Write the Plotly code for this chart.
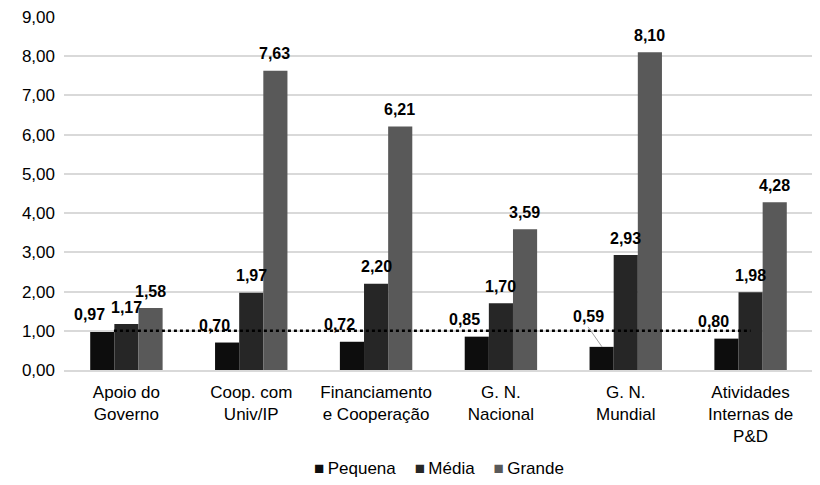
import plotly.graph_objects as go

categories = ["Apoio do<br>Governo", "Coop. com<br>Univ/IP", "Financiamento<br>e Cooperação",
              "G. N.<br>Nacional", "G. N.<br>Mundial", "Atividades<br>Internas de<br>P&D"]
pequena = [0.97, 0.70, 0.72, 0.85, 0.59, 0.80]
media = [1.17, 1.97, 2.20, 1.70, 2.93, 1.98]
grande = [1.58, 7.63, 6.21, 3.59, 8.10, 4.28]
reference_level = 1.0
tick_values = [0, 1, 2, 3, 4, 5, 6, 7, 8, 9]

series = [("Pequena", pequena, "#0d0d0d"), ("Média", media, "#262626"), ("Grande", grande, "#595959")]
FONT = "Liberation Sans, Arial"

def fmt(v):
    return f"{v:.2f}".replace(".", ",")

fig = go.Figure()
for name, vals, col in series:
    fig.add_trace(go.Bar(x=categories, y=vals, name=name, marker_color=col,
                         marker_line_width=0, showlegend=False))

offsets = {"Pequena": (-0.19, -13), "Média": (0.0, 0), "Grande": (0.19, 0)}
for name, vals, col in series:
    dx, xs = offsets[name]
    for i, v in enumerate(vals):
        is_leader = (name == "Pequena" and v < 0.65)
        fig.add_annotation(
            x=i + dx, y=v, xref="x", yref="y",
            text=f"<b>{fmt(v)}</b>",
            showarrow=is_leader,
            arrowhead=0, arrowwidth=1, arrowcolor="#a0a0a0",
            ax=-14 if is_leader else 0, ay=-20 if is_leader else 0,
            xshift=0 if is_leader else xs,
            yshift=0 if is_leader else 17,
            yanchor="middle" if not is_leader else "bottom",
            font=dict(family=FONT, size=16, color="#000000"),
        )

fig.add_shape(type="line", xref="x", yref="y", x0=-0.1, x1=5.0,
              y0=reference_level, y1=reference_level,
              line=dict(color="#000000", width=2.5, dash="dot"))

# manual legend
legend_text = "&nbsp;&nbsp;&nbsp;&nbsp;".join(
    f"<span style='color:{col}'>■</span>&#8201;{name}" for name, _, col in series)
fig.add_annotation(x=0.5, y=-0.28, xref="paper", yref="paper", showarrow=False,
                   text=legend_text, xanchor="center", yanchor="middle",
                   font=dict(family=FONT, size=17, color="#000000"))

fig.update_layout(
    width=812, height=477,
    margin=dict(l=56, r=7, t=9, b=115, autoexpand=False),
    paper_bgcolor="white", plot_bgcolor="white",
    barmode="group", bargap=0.42, bargroupgap=0,
    font=dict(family=FONT, color="#000000"),
    showlegend=False,
)
fig.update_yaxes(range=[0, 9], tickvals=tick_values,
                 ticktext=[fmt(t) for t in tick_values],
                 showgrid=True, gridcolor="#d9d9d9", gridwidth=1.5,
                 zeroline=False, showline=False, ticklabeloverflow="allow",
                 tickfont=dict(size=17), ticklabelstandoff=8)
fig.update_xaxes(tickfont=dict(size=17), showline=True, linecolor="#d9d9d9", linewidth=1.5,
                 ticks="outside", ticklen=6, tickcolor="rgba(0,0,0,0)")

fig.write_html("out.html")
